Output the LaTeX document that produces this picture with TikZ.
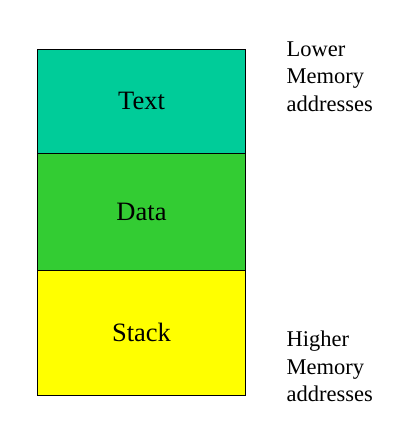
\documentclass[tikz,border=0pt]{standalone}
\usepackage{fontspec}
\setmainfont{Liberation Serif}
\definecolor{textseg}{RGB}{0,204,153}
\definecolor{dataseg}{RGB}{51,204,51}
\definecolor{stackseg}{RGB}{255,255,0}
\tikzset{
  seg/.style={draw=black, line width=0.8pt, minimum width=208pt, inner sep=0pt, outer sep=0pt,
    font=\fontsize{26.5}{30}\selectfont},
  addr/.style={anchor=north west, inner sep=0pt, align=left,
    font=\fontsize{22.5}{27.5}\selectfont}
}
\begin{document}
\begin{tikzpicture}[x=1pt,y=-1pt]
\useasboundingbox (0,0) rectangle (400,434);
\node[seg, fill=textseg, minimum height=104pt] (text) at (141.5,101.3) {Text};
\node[seg, fill=dataseg, minimum height=117pt] (data) at (141.5,211.8) {Data};
\node[seg, fill=stackseg, minimum height=124.7pt] (stack) at (141.5,332.7) {Stack};
\node[addr] (lower) at (286.5,41.5) {Lower\\Memory\\addresses};
\node[addr] (higher) at (286.5,330.8) {Higher\\Memory\\addresses};
\end{tikzpicture}
\end{document}
